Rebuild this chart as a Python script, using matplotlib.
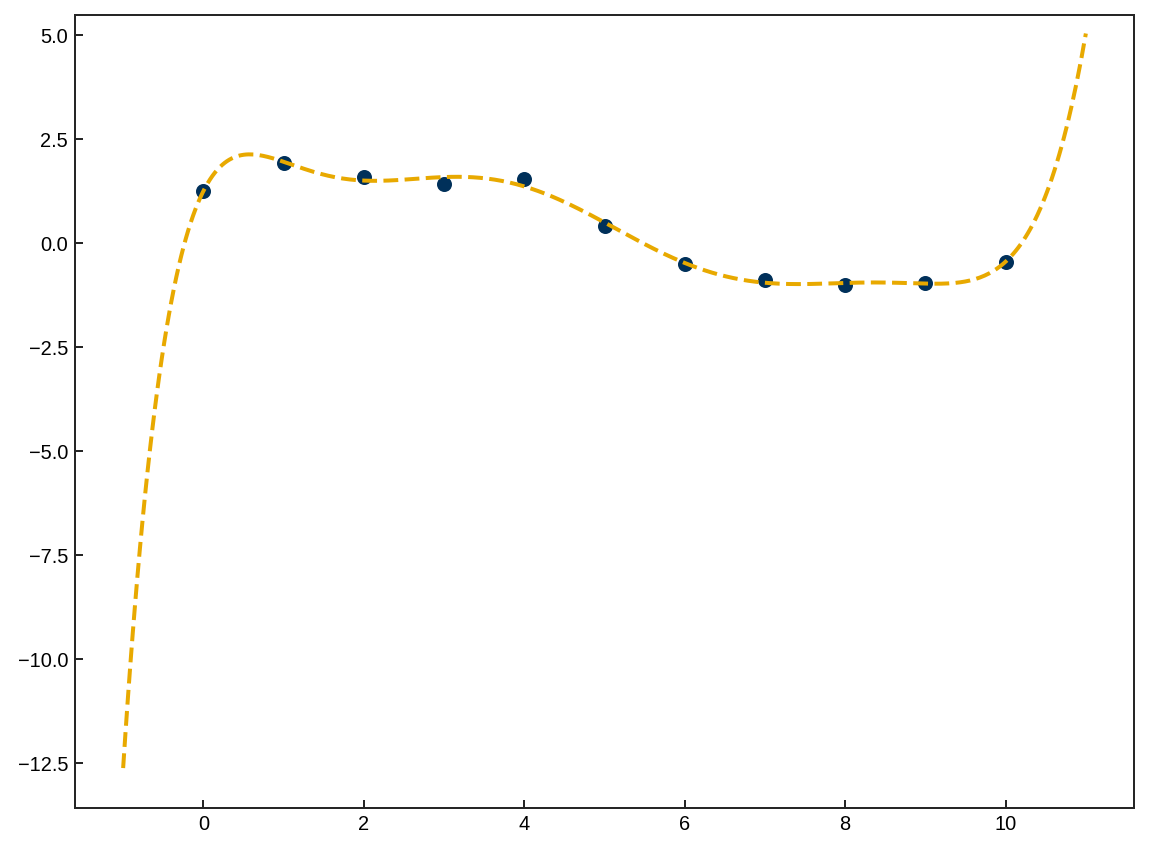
import numpy as np
import matplotlib
matplotlib.use("Agg")
import matplotlib.pyplot as plt

# data points
x_data = [0, 1, 2, 3, 4, 5, 6, 7, 8, 9, 10]
y_data = [1.26, 1.94, 1.59, 1.44, 1.54, 0.42, -0.50, -0.87, -1.00, -0.95, -0.44]
fit_degree = 8
fit_range = [-1, 11]

plt.rcParams['font.family'] = ['Liberation Sans', 'DejaVu Sans']
plt.rcParams['font.size'] = 10

fig = plt.figure(figsize=(1149 / 144, 849 / 144), dpi=144)
ax = fig.add_axes([75 / 1149, 1 - 808 / 849, (1134 - 75) / 1149, (808 - 15) / 849])

coef = np.polyfit(x_data, y_data, fit_degree)
xs = np.linspace(fit_range[0], fit_range[1], 400)

ax.plot(x_data, y_data, 'o', color='#00305a', markersize=6.5, zorder=2)
ax.plot(xs, np.polyval(coef, xs), '--', color='#e8a900', linewidth=2, zorder=3)

ax.set_xlim(-1.6, 11.6)
ax.set_ylim(-13.57, 5.49)
ax.set_xticks([0, 2, 4, 6, 8, 10])
ax.set_yticks([-12.5, -10.0, -7.5, -5.0, -2.5, 0.0, 2.5, 5.0])
ax.tick_params(direction='in', length=4, width=1, colors='#262626', labelcolor='black')
for s in ax.spines.values():
    s.set_color('#262626')
    s.set_linewidth(1)

fig.savefig("out.png", dpi=144)
